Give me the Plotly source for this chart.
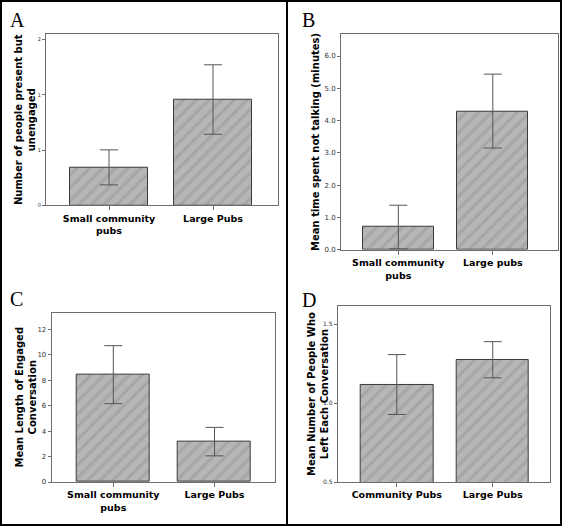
import plotly.graph_objects as go

W, H = 562, 531

# ---- data ----
a_cats = ["Small community<br>pubs", "Large Pubs"]
a_mean = [0.341, 0.961]
a_upper = [0.503, 1.273]
a_lower = [0.186, 0.644]
a_tickvals = [0, 0.5, 1.0, 1.5]
a_ticktext = ["0", "1", "1", "2"]

b_cats = ["Small community<br>pubs", "Large pubs"]
b_mean = [0.71, 4.29]
b_upper = [1.38, 5.44]
b_lower = [0.03, 3.15]
b_tickvals = [0, 1, 2, 3, 4, 5, 6]
b_ticktext = ["0.0", "1.0", "2.0", "3.0", "4.0", "5.0", "6.0"]

c_cats = ["Small community<br>pubs", "Large Pubs"]
c_mean = [8.44, 3.15]
c_upper = [10.73, 4.30]
c_lower = [6.17, 2.06]
c_tickvals = [0, 2, 4, 6, 8, 10, 12]
c_ticktext = ["0", "2", "4", "6", "8", "10", "12"]

d_cats = ["Community Pubs", "Large Pubs"]
d_mean = [1.116, 1.276]
d_upper = [1.307, 1.389]
d_lower = [0.928, 1.160]
d_tickvals = [0.5, 1.0, 1.5]
d_ticktext = ["0.5", "1.0", "1.5"]

titles = {
    "A": "Number of people present but<br>unengaged",
    "B": "Mean time spent not talking (minutes)",
    "C": "Mean Length of Engaged<br>Conversation",
    "D": "Mean Number of People Who<br>Left Each Conversation",
}

def px_x(v):
    return v / W

def px_y(v):
    return 1 - v / H

fig = go.Figure()

panels = [
    ("A", a_cats, a_mean, a_upper, a_lower, a_tickvals, a_ticktext, (46, 278, 34, 207), [-0.606, 1.625], [0, 1.554], 0.75, 5),
    ("B", b_cats, b_mean, b_upper, b_lower, b_tickvals, b_ticktext, (341, 558, 34, 251.7), [-0.607, 1.69], [0, 6.69], 0.753, 7),
    ("C", c_cats, c_mean, c_upper, c_lower, c_tickvals, c_ticktext, (51.7, 275, 315, 485.7), [-0.609, 1.598], [0, 13.33], 0.72, 7),
    ("D", d_cats, d_mean, d_upper, d_lower, d_tickvals, d_ticktext, (337.7, 550.3, 308.3, 485.7), [-0.616, 1.60], [0.5, 1.615], 0.76, 6),
]

layout = dict(
    width=W, height=H,
    margin=dict(l=0, r=0, t=0, b=0),
    paper_bgcolor="white", plot_bgcolor="white",
    showlegend=False,
    bargap=0,
)

for i, (name, cats, mean, upper, lower, tv, tt, box, xr, yr, bw, tfs) in enumerate(panels):
    n = "" if i == 0 else str(i + 1)
    xa, ya = "x" + n, "y" + n
    fig.add_trace(go.Bar(
        x=cats, y=mean, xaxis=xa, yaxis=ya, width=bw,
        marker=dict(
            color="#b0b0b0",
            line=dict(color="#3a3a3a", width=1),
            pattern=dict(shape="/", fgcolor="#969696", bgcolor="#b6b6b6", size=9, solidity=0.35),
        ),
        error_y=dict(
            type="data", symmetric=False,
            array=[u - m for u, m in zip(upper, mean)],
            arrayminus=[m - l for m, l in zip(mean, lower)],
            color="#555555", thickness=1, width=9,
        ),
        hoverinfo="skip",
    ))
    l, r, t, b = box
    layout["xaxis" + n] = dict(
        domain=[px_x(l), px_x(r)], anchor=ya, range=xr, type="category",
        showline=True, mirror=True, linecolor="#6e6e6e", linewidth=1,
        ticks="outside", ticklen=4, tickcolor="#6e6e6e",
        tickfont=dict(family="DejaVu Sans", size=9.5, color="black", weight="bold"),
        showgrid=False, zeroline=False, fixedrange=True,
    )
    layout["yaxis" + n] = dict(
        domain=[px_y(b), px_y(t)], anchor=xa, range=yr,
        tickvals=tv, ticktext=tt,
        showline=True, mirror=True, linecolor="#6e6e6e", linewidth=1,
        ticks="outside", ticklen=3, tickcolor="#6e6e6e",
        tickfont=dict(family="DejaVu Sans", size=tfs, color="#333333"),
        showgrid=False, zeroline=False, fixedrange=True,
    )

fig.update_layout(**layout)

ytitle_pos = {"A": (24.5, 120.5), "B": (316, 143), "C": (25.5, 400), "D": (318, 397)}
for k, (x, y) in ytitle_pos.items():
    fig.add_annotation(
        x=px_x(x), y=px_y(y), xref="paper", yref="paper",
        text="<b>" + titles[k] + "</b>", showarrow=False, textangle=-90,
        xanchor="center", yanchor="middle",
        font=dict(family="DejaVu Sans", size=10, color="black"),
    )

letter_pos = {"A": (17.5, 20), "B": (308.5, 20), "C": (16, 301.5), "D": (308.5, 302.5)}
for k, (x, y) in letter_pos.items():
    fig.add_annotation(
        x=px_x(x), y=px_y(y), xref="paper", yref="paper",
        text=k, showarrow=False, xanchor="center", yanchor="middle",
        font=dict(family="Liberation Serif", size=20, color="black"),
    )

fig.add_shape(type="rect", xref="paper", yref="paper",
              x0=px_x(1), x1=px_x(561), y0=px_y(529), y1=px_y(1),
              line=dict(color="black", width=2))
fig.add_shape(type="line", xref="paper", yref="paper",
              x0=px_x(287), x1=px_x(287), y0=px_y(529), y1=px_y(1),
              line=dict(color="black", width=2))

fig.write_html(
    "out.html",
    config={"displayModeBar": False},
    post_script="document.body.style.margin='0';document.body.style.overflow='hidden';",
)
